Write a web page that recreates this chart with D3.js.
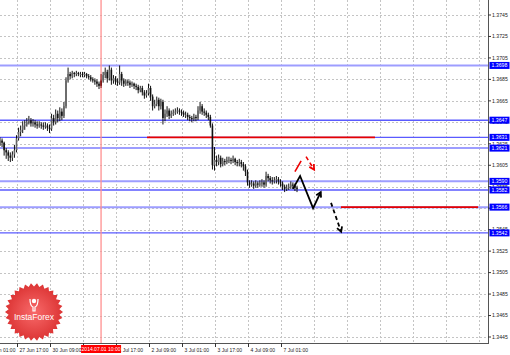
<!DOCTYPE html>
<html><head><meta charset="utf-8">
<script src="https://cdn.jsdelivr.net/npm/d3@7"></script>
<style>html,body{margin:0;padding:0;background:#fff;}svg{display:block;}</style>
</head><body>
<script>
// ---- data (H1 bars, index 0 = 27 Jun 17:00) ----
const firstBar = -8;
const firstOpen = 1.3625;
const closes = [1.3628,1.3626,1.3619,1.3617,1.3614,1.3612,1.3615,1.3619,
1.3630,1.3636,1.3638,1.3642,1.3643,1.3645,1.3647,1.3644,1.3645,1.3643,1.3642,1.3643,1.3642,1.3641,1.3642,1.3640,
1.3639,1.3649,1.3645,1.3653,1.3649,1.3655,1.3651,1.3660,1.3684,1.3690,1.3688,1.3691,1.3690,1.3691,1.3690,1.3690,
1.3689,1.3690,1.3688,1.3687,1.3685,1.3684,1.3683,1.3681,1.3679,1.3684,1.3689,1.3692,1.3686,1.3694,1.3684,1.3686,
1.3683,1.3682,1.3690,1.3684,1.3681,1.3683,1.3682,1.3680,1.3681,1.3679,1.3678,1.3675,1.3677,1.3673,1.3670,1.3672,
1.3677,1.3669,1.3660,1.3662,1.3666,1.3660,1.3664,1.3649,1.3653,1.3656,1.3651,1.3653,1.3654,1.3655,1.3656,1.3655,
1.3654,1.3652,1.3652,1.3650,1.3649,1.3648,1.3650,1.3649,1.3656,1.3660,1.3655,1.3654,1.3652,1.3650,1.3642,1.3605,
1.3610,1.3608,1.3612,1.3606,1.3609,1.3608,1.3610,1.3610,1.3609,1.3611,1.3608,1.3607,1.3608,1.3606,1.3604,1.3599,
1.3589,1.3587,1.3588,1.3586,1.3588,1.3587,1.3588,1.3589,1.3587,1.3595,1.3593,1.3591,1.3590,1.3591,1.3592,1.3590,
1.3588,1.3585,1.3583,1.3584,1.3585,1.3587,1.3586,1.3584,1.3583];
const highs = [1.3631,1.3630,1.3627,1.3621,1.3619,1.3617,1.3618,1.3624,
1.3633,1.3640,1.3642,1.3646,1.3647,1.3649,1.3651,1.3649,1.3648,1.3647,1.3646,1.3646,1.3645,1.3645,1.3645,1.3644,
1.3643,1.3653,1.3652,1.3657,1.3656,1.3659,1.3658,1.3664,1.3687,1.3696,1.3692,1.3693,1.3692,1.3693,1.3692,1.3692,
1.3692,1.3692,1.3691,1.3690,1.3689,1.3687,1.3686,1.3685,1.3683,1.3690,1.3692,1.3696,1.3694,1.3698,1.3696,1.3689,
1.3688,1.3686,1.3698,1.3692,1.3686,1.3685,1.3685,1.3684,1.3683,1.3682,1.3681,1.3680,1.3679,1.3679,1.3675,1.3675,
1.3681,1.3679,1.3671,1.3666,1.3669,1.3668,1.3667,1.3666,1.3657,1.3660,1.3658,1.3656,1.3657,1.3658,1.3659,1.3658,
1.3657,1.3656,1.3655,1.3654,1.3652,1.3651,1.3653,1.3652,1.3660,1.3664,1.3662,1.3658,1.3656,1.3654,1.3652,1.3644,
1.3622,1.3614,1.3615,1.3614,1.3612,1.3611,1.3613,1.3613,1.3612,1.3614,1.3612,1.3610,1.3611,1.3610,1.3608,1.3606,
1.3601,1.3591,1.3591,1.3590,1.3591,1.3590,1.3591,1.3592,1.3591,1.3599,1.3597,1.3595,1.3594,1.3594,1.3595,1.3594,
1.3592,1.3590,1.3587,1.3587,1.3588,1.3590,1.3589,1.3588,1.3586];
const lows = [1.3623,1.3622,1.3614,1.3611,1.3609,1.3608,1.3609,1.3612,
1.3617,1.3628,1.3632,1.3635,1.3638,1.3641,1.3643,1.3641,1.3641,1.3640,1.3639,1.3640,1.3639,1.3638,1.3639,1.3637,
1.3635,1.3637,1.3642,1.3643,1.3645,1.3646,1.3647,1.3649,1.3658,1.3682,1.3685,1.3686,1.3687,1.3688,1.3688,1.3687,
1.3687,1.3687,1.3686,1.3685,1.3683,1.3682,1.3680,1.3678,1.3676,1.3677,1.3682,1.3686,1.3682,1.3684,1.3680,1.3681,
1.3680,1.3679,1.3680,1.3679,1.3678,1.3679,1.3679,1.3677,1.3678,1.3676,1.3675,1.3672,1.3673,1.3670,1.3667,1.3668,
1.3670,1.3665,1.3656,1.3658,1.3660,1.3656,1.3657,1.3643,1.3646,1.3650,1.3648,1.3649,1.3651,1.3652,1.3653,1.3652,
1.3651,1.3650,1.3649,1.3647,1.3646,1.3645,1.3646,1.3646,1.3647,1.3653,1.3652,1.3651,1.3649,1.3647,1.3640,1.3601,
1.3600,1.3604,1.3605,1.3603,1.3604,1.3605,1.3606,1.3607,1.3606,1.3607,1.3605,1.3604,1.3604,1.3603,1.3600,1.3595,
1.3586,1.3584,1.3585,1.3583,1.3584,1.3584,1.3585,1.3585,1.3584,1.3585,1.3590,1.3588,1.3587,1.3588,1.3588,1.3587,
1.3585,1.3582,1.3580,1.3581,1.3582,1.3583,1.3583,1.3581,1.3580];

const priceTicks = [1.3745,1.3725,1.3705,1.3685,1.3665,1.3645,1.3625,1.3605,1.3585,1.3565,1.3545,1.3525,1.3505,1.3485,1.3465,1.3445];
const timeTickBars = [-16,0,16,32,48,64,80,96,112,128,144,160,176,192,208,224];
const timeTickLabels = ["27 Jun 01:00","27 Jun 17:00","30 Jun 09:00","1 Jul 01:00","1 Jul 17:00","2 Jul 09:00","3 Jul 01:00","3 Jul 17:00","4 Jul 09:00","7 Jul 01:00"];
const levels = [1.3698,1.3647,1.3631,1.3621,1.3590,1.3582,1.3566,1.3542];
const levelLight = [true,false,false,true,true,false,true,false];
const redLevels = [1.3631,1.3566];
const redLevelFrom = [63.3,157.3];
const redLevelTo = [173.8,223.8];
const markerBar = 41;
const markerLabel = "2014.07.01 10:00";
const blackPath = [[134,1.3583],[137.5,1.3595],[143.8,1.3565],[147.5,1.3580]];
const blackDash = [[152.5,1.3570],[157.4,1.3543]];
const redPath = [[135,1.3599],[138,1.3609]];
const redDash = [[140.4,1.3613],[144.3,1.3601]];

// ---- layout ----
const W = 510, H = 355, plotR = 488, plotB = 343;
const svg = d3.select("body").append("svg").attr("width", W).attr("height", H);
const x = d3.scaleLinear().domain([-8, 224]).range([0, 478.5]);
const y = d3.scaleLinear().domain([1.3445, 1.3745]).range([337, 15]);
const font = "Liberation Sans, Arial, sans-serif";

const plot = svg.append("g");
// grid
plot.selectAll(".hg").data(priceTicks).enter().append("line")
  .attr("x1", 0).attr("x2", plotR).attr("y1", d => Math.round(y(d)) + 0.5).attr("y2", d => Math.round(y(d)) + 0.5)
  .attr("stroke", "#c4c4c4").attr("stroke-dasharray", "2,2");
plot.selectAll(".vg").data(timeTickBars).enter().append("line")
  .attr("y1", 0).attr("y2", plotB).attr("x1", d => Math.round(x(d)) + 0.5).attr("x2", d => Math.round(x(d)) + 0.5)
  .attr("stroke", "#c4c4c4").attr("stroke-dasharray", "2,2");

// levels
plot.selectAll(".lv").data(levels).enter().append("line")
  .attr("x1", 0).attr("x2", plotR).attr("y1", d => y(d)).attr("y2", d => y(d))
  .attr("stroke", (d, i) => levelLight[i] ? "#9d9dff" : "#5a5aff")
  .attr("stroke-width", (d, i) => levelLight[i] ? 2 : 1.4);
redLevels.forEach((v, i) => {
  plot.append("line").attr("x1", x(redLevelFrom[i])).attr("x2", x(redLevelTo[i]))
    .attr("y1", y(v)).attr("y2", y(v)).attr("stroke", "#e60000").attr("stroke-width", 1.8);
});

// marker vertical line
plot.append("line").attr("x1", x(markerBar)).attr("x2", x(markerBar)).attr("y1", 0).attr("y2", plotB)
  .attr("stroke", "#ff9090").attr("stroke-width", 1.3);

// candles
const bars = closes.map((c, k) => ({
  i: firstBar + k, o: k === 0 ? firstOpen : closes[k - 1], h: highs[k], l: lows[k], c: c
}));
const cg = plot.append("g");
cg.selectAll(".wick").data(bars).enter().append("line")
  .attr("x1", d => x(d.i)).attr("x2", d => x(d.i)).attr("y1", d => y(d.h)).attr("y2", d => y(d.l))
  .attr("stroke", d => d.i === markerBar ? "#7a1010" : "#111").attr("stroke-width", 1);
cg.selectAll(".body").data(bars).enter().append("rect")
  .attr("x", d => x(d.i) - 0.8).attr("width", 1.6)
  .attr("y", d => y(Math.max(d.o, d.c))).attr("height", d => Math.max(0.8, Math.abs(y(d.o) - y(d.c))))
  .attr("fill", d => d.i === markerBar ? "#7a1010" : (d.c >= d.o ? "#666" : "#111"));

// annotations
function arrowHead(g, pts, color) {
  const [a, b] = [pts[pts.length - 2], pts[pts.length - 1]];
  const x1 = x(a[0]), y1 = y(a[1]), x2 = x(b[0]), y2 = y(b[1]);
  const ang = Math.atan2(y2 - y1, x2 - x1), L = 5.5, s = 0.5;
  g.append("path").attr("d",
    `M${x2 - L * Math.cos(ang - s)},${y2 - L * Math.sin(ang - s)}L${x2},${y2}L${x2 - L * Math.cos(ang + s)},${y2 - L * Math.sin(ang + s)}`)
    .attr("fill", "none").attr("stroke", color).attr("stroke-width", 1.8);
}
const line = d3.line().x(d => x(d[0])).y(d => y(d[1]));
const ag = plot.append("g");
ag.append("path").attr("d", line(blackPath)).attr("fill", "none").attr("stroke", "#000").attr("stroke-width", 1.8);
arrowHead(ag, blackPath, "#000");
ag.append("path").attr("d", line(blackDash)).attr("fill", "none").attr("stroke", "#000").attr("stroke-width", 1.8).attr("stroke-dasharray", "4,3");
arrowHead(ag, blackDash, "#000");
ag.append("path").attr("d", line(redPath)).attr("fill", "none").attr("stroke", "#ee0000").attr("stroke-width", 1.6);
ag.append("path").attr("d", line(redDash)).attr("fill", "none").attr("stroke", "#ee0000").attr("stroke-width", 1.6).attr("stroke-dasharray", "4,3");
arrowHead(ag, redDash, "#ee0000");

// logo
const lg = svg.append("g").attr("transform", "translate(34,312)");
const grad = svg.append("defs").append("radialGradient").attr("id", "lgG");
grad.append("stop").attr("offset", "0%").attr("stop-color", "#f86a6a");
grad.append("stop").attr("offset", "100%").attr("stop-color", "#dc3434");
const N = 30, pts = [];
for (let k = 0; k < 2 * N; k++) {
  const r = k % 2 === 0 ? 29 : 25.5, a = Math.PI * k / N;
  pts.push([r * Math.cos(a), r * Math.sin(a)]);
}
lg.append("path").attr("d", "M" + pts.map(p => p.join(",")).join("L") + "Z").attr("fill", "url(#lgG)");
lg.append("circle").attr("cy", -11).attr("r", 2.2).attr("fill", "#fff");
lg.append("path").attr("d", "M-4,-13 Q-4,-6 -1,-5 L-1,-1 L1,-1 L1,-5 Q4,-6 4,-13").attr("fill", "none").attr("stroke", "#fff").attr("stroke-width", 1.2);
lg.append("text").attr("y", 8).attr("text-anchor", "middle").attr("fill", "#fff")
  .attr("font-family", font).attr("font-size", 8.5).text("InstaForex");

// axes frame
svg.append("rect").attr("x", plotR + 0.5).attr("y", 0).attr("width", W - plotR).attr("height", H).attr("fill", "#fff");
svg.append("rect").attr("x", 0).attr("y", plotB + 0.5).attr("width", W).attr("height", H - plotB).attr("fill", "#fff");
svg.append("line").attr("x1", plotR + 0.5).attr("x2", plotR + 0.5).attr("y1", 0).attr("y2", plotB + 1).attr("stroke", "#555");
svg.append("line").attr("x1", 0).attr("x2", plotR + 1).attr("y1", plotB + 0.5).attr("y2", plotB + 0.5).attr("stroke", "#555");

// price axis
const pa = svg.append("g");
pa.selectAll(".pt").data(priceTicks).enter().append("line")
  .attr("x1", plotR).attr("x2", plotR + 3).attr("y1", d => y(d)).attr("y2", d => y(d)).attr("stroke", "#333");
pa.selectAll(".pl").data(priceTicks).enter().append("text")
  .attr("x", plotR + 4).attr("y", d => y(d) + 1.8).attr("font-family", font).attr("font-size", 5.2).attr("fill", "#222")
  .text(d => d.toFixed(4));
levels.forEach(v => {
  pa.append("rect").attr("x", plotR + 1.5).attr("y", y(v) - 3.5).attr("width", 20).attr("height", 7).attr("fill", "#0000ff");
  pa.append("text").attr("x", plotR + 3.5).attr("y", y(v) + 1.9).attr("font-family", font).attr("font-size", 5.2)
    .attr("fill", "#fff").text(v.toFixed(4));
});

// time axis
const ta = svg.append("g");
timeTickLabels.forEach((t, k) => {
  const xx = Math.round(x(timeTickBars[k])) + 0.5;
  ta.append("line").attr("x1", xx).attr("x2", xx).attr("y1", plotB).attr("y2", plotB + 4).attr("stroke", "#333");
  ta.append("text").attr("x", xx + 2).attr("y", 351.5).attr("font-family", font).attr("font-size", 5).attr("fill", "#222").text(t);
});
const mx = x(markerBar);
ta.append("rect").attr("x", mx - 20).attr("y", 345).attr("width", 40).attr("height", 8).attr("fill", "#ff0000");
ta.append("text").attr("x", mx).attr("y", 351.3).attr("text-anchor", "middle").attr("font-family", font)
  .attr("font-size", 5).attr("fill", "#fff").text(markerLabel);
</script>
</body></html>
